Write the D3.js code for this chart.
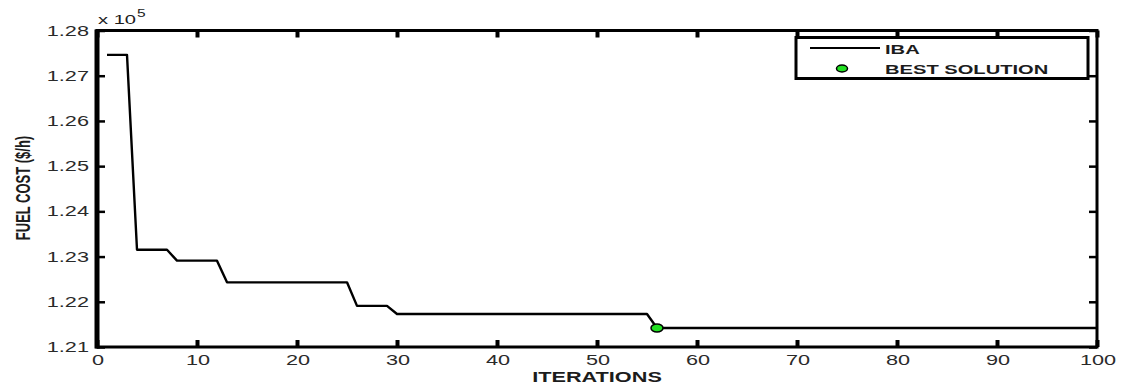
<!DOCTYPE html>
<html>
<head>
<meta charset="utf-8">
<script src="https://cdn.jsdelivr.net/npm/d3@7"></script>
<style>
body { margin: 0; background: #fff; }
svg { display: block; font-family: "Liberation Sans", Arial, sans-serif; }
</style>
</head>
<body>
<svg id="chart" width="1121" height="389"></svg>
<script>
// corners of the IBA convergence curve (iteration, fuel cost / 1e5)
var iterations = [1, 3, 4, 7, 8, 12, 13, 25, 26, 29, 30, 55, 56, 100];
var fuelCost = [1.2746, 1.2746, 1.2315, 1.2315, 1.2291, 1.2291, 1.2243, 1.2243,
                1.2191, 1.2191, 1.2173, 1.2173, 1.2142, 1.2142];
var bestIter = [56];
var bestCost = [1.2142];
var xTicks = [0, 10, 20, 30, 40, 50, 60, 70, 80, 90, 100];
var yTicks = [1.21, 1.22, 1.23, 1.24, 1.25, 1.26, 1.27, 1.28];
var legendLabels = ['IBA', 'BEST SOLUTION'];

var SX = 1.55; // the figure is stretched sideways
var svg = d3.select('#chart');
var plotL = 97, plotR = 1097, plotT = 30.5, plotB = 347;

var x = d3.scaleLinear().domain([0, 100]).range([plotL, plotR]);
var y = d3.scaleLinear().domain([1.21, 1.28]).range([plotB, plotT]);

function label(g, px, py, txt, opts) {
    opts = opts || {};
    return g.append('text')
        .attr('transform', 'translate(' + px + ',' + py + ')' +
              (opts.rotate ? ' rotate(-90) scale(1,' + SX + ')' : ' scale(' + SX + ',1)'))
        .attr('text-anchor', opts.anchor || 'middle')
        .attr('font-size', opts.size || 14)
        .attr('font-weight', opts.bold ? 'bold' : 'normal')
        .attr('fill', opts.fill || '#1c1c1c')
        .text(txt);
}

// ticks via axes, labels drawn separately so they can be stretched
function tickAxis(axis, tr, w) {
    var g = svg.append('g').attr('transform', tr).call(axis);
    g.select('.domain').remove();
    g.selectAll('.tick line').attr('stroke', '#000').attr('stroke-width', w);
    g.selectAll('.tick text').remove();
}
tickAxis(d3.axisBottom(x).tickValues(xTicks).tickSize(-7), 'translate(0,' + plotB + ')', 4);
tickAxis(d3.axisTop(x).tickValues(xTicks).tickSize(-7), 'translate(0,' + plotT + ')', 4);
tickAxis(d3.axisLeft(y).tickValues(yTicks).tickSize(-8), 'translate(' + plotL + ',0)', 2.5);
tickAxis(d3.axisRight(y).tickValues(yTicks).tickSize(-8), 'translate(' + plotR + ',0)', 2.5);

// frame
svg.append('rect')
    .attr('x', plotL).attr('y', plotT)
    .attr('width', plotR - plotL).attr('height', plotB - plotT)
    .attr('fill', 'none').attr('stroke', '#000').attr('stroke-width', 3);
svg.append('line')
    .attr('x1', plotL).attr('x2', plotL).attr('y1', plotT - 1).attr('y2', plotB + 1.5)
    .attr('stroke', '#000').attr('stroke-width', 5);

xTicks.forEach(function(t) {
    label(svg, x(t) + 1, 365, t, {fill: '#2a2a2a'});
});
yTicks.forEach(function(t) {
    label(svg, 89, y(t) + 5, t.toFixed(2), {anchor: 'end', fill: '#2a2a2a'});
});

// exponent
label(svg, 98, 24, 'x 10', {anchor: 'start', size: 13});
label(svg, 137, 17, '5', {anchor: 'start', size: 10});

label(svg, x(50), 382, 'ITERATIONS', {bold: true});
label(svg, 30, 188, 'FUEL COST ($/h)', {bold: true, rotate: true, size: 13});

// curve
var pts = iterations.map(function(d, i) { return [d, fuelCost[i]]; });
svg.append('path')
    .datum(pts)
    .attr('fill', 'none')
    .attr('stroke', '#000')
    .attr('stroke-width', 2.4)
    .attr('stroke-linejoin', 'round')
    .attr('d', d3.line().x(function(d) { return x(d[0]); }).y(function(d) { return y(d[1]); }));

svg.selectAll('ellipse.best')
    .data(bestIter)
    .enter().append('ellipse')
    .attr('class', 'best')
    .attr('cx', function(d) { return x(d); })
    .attr('cy', function(d, i) { return y(bestCost[i]); })
    .attr('rx', 6).attr('ry', 4)
    .attr('fill', '#22e022').attr('stroke', '#000').attr('stroke-width', 1.5);

// legend
var lg = svg.append('g');
lg.append('rect')
    .attr('x', 796).attr('y', 37.5).attr('width', 292).attr('height', 41)
    .attr('fill', '#fff').attr('stroke', '#000').attr('stroke-width', 3);
lg.append('line')
    .attr('x1', 810).attr('x2', 880).attr('y1', 48).attr('y2', 48)
    .attr('stroke', '#000').attr('stroke-width', 2.2);
lg.append('ellipse')
    .attr('cx', 842).attr('cy', 68.5).attr('rx', 5.5).attr('ry', 3.5)
    .attr('fill', '#22e022').attr('stroke', '#000').attr('stroke-width', 1.5);
label(lg, 885, 53.5, legendLabels[0], {anchor: 'start', bold: true, size: 13});
label(lg, 885, 73.5, legendLabels[1], {anchor: 'start', bold: true, size: 13});
</script>
</body>
</html>
